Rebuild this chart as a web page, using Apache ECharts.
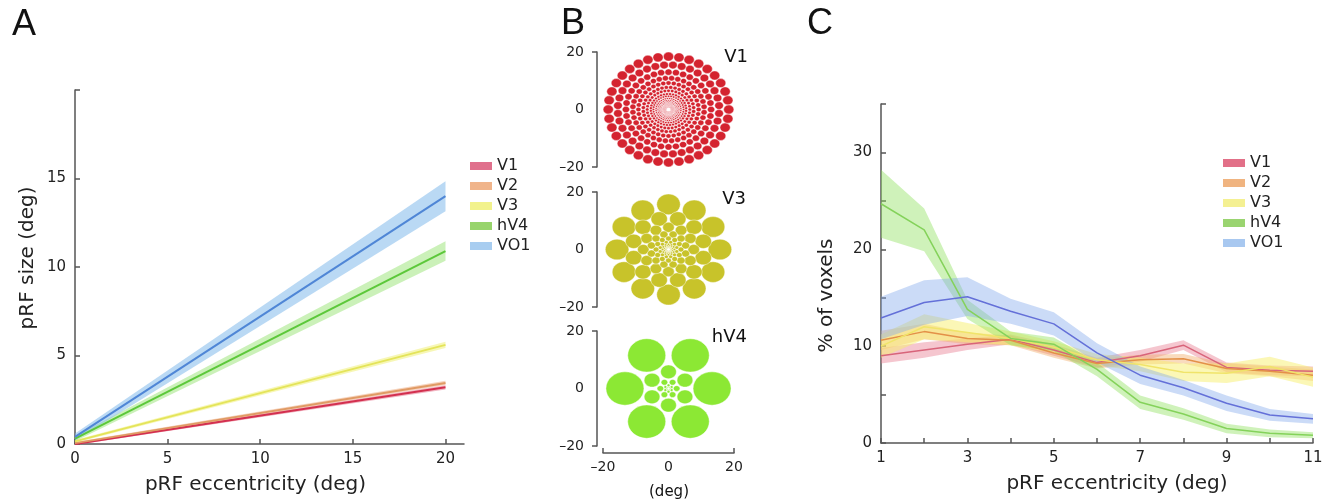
<!DOCTYPE html>
<html><head><meta charset="utf-8">
<script src="https://cdn.jsdelivr.net/npm/echarts@6/dist/echarts.min.js"></script>
<style>html,body{margin:0;padding:0;background:#fff}#c{width:1334px;height:504px}</style>
</head><body><div id="c"></div>
<script>
// ---------- DATA ----------
const areaNames = ['V1', 'V2', 'V3', 'hV4', 'VO1'];

// Panel A: pRF size vs eccentricity (linear fits, endpoints)
const eccA = [0, 20];
const sizeA_V1 = [0.0, 3.2];   const errA_V1 = [0.06, 0.12];
const sizeA_V2 = [0.05, 3.45]; const errA_V2 = [0.06, 0.12];
const sizeA_V3 = [0.15, 5.6];  const errA_V3 = [0.08, 0.18];
const sizeA_hV4 = [0.3, 10.9]; const errA_hV4 = [0.15, 0.55];
const sizeA_VO1 = [0.4, 14.0]; const errA_VO1 = [0.2, 0.85];

// Panel C: % of voxels vs eccentricity
const eccC = [1, 2, 3, 4, 5, 6, 7, 8, 9, 10, 11];
const pctC_V1 = [9.0, 9.6, 10.2, 10.7, 9.6, 8.3, 9.0, 10.1, 7.8, 7.5, 7.4];
const errC_V1 = [0.8, 0.8, 0.6, 0.5, 0.6, 0.5, 0.6, 0.5, 0.5, 0.5, 0.5];
const pctC_V2 = [10.6, 11.5, 10.8, 10.6, 9.3, 8.2, 8.6, 8.7, 7.7, 7.4, 7.0];
const errC_V2 = [1.0, 0.8, 0.6, 0.5, 0.5, 0.5, 0.5, 0.5, 0.5, 0.5, 0.6];
const pctC_V3 = [10.0, 12.0, 11.4, 10.8, 9.9, 8.6, 8.1, 7.3, 7.2, 7.9, 6.8];
const errC_V3 = [1.2, 1.3, 1.0, 0.7, 0.6, 0.6, 0.7, 0.9, 1.0, 1.0, 1.0];
const pctC_hV4 = [24.7, 22.0, 13.8, 10.8, 10.2, 7.6, 4.2, 3.0, 1.5, 1.0, 0.8];
const errC_hV4 = [3.5, 2.2, 1.0, 0.7, 0.7, 0.7, 0.7, 0.6, 0.5, 0.4, 0.3];
const pctC_VO1 = [12.9, 14.5, 15.1, 13.6, 12.3, 9.3, 7.0, 5.7, 4.1, 2.9, 2.5];
const errC_VO1 = [2.2, 2.3, 2.0, 1.3, 1.2, 1.0, 0.9, 0.8, 0.8, 0.6, 0.5];

// Panel B: pRF tilings (ring eccentricity, pRF radius, count per ring), deg
const v1RingEcc = [18.4, 15.5, 13.0, 10.9, 9.2, 7.7, 6.5, 5.4, 4.6, 3.8, 3.2, 2.7, 2.3, 1.9, 1.6, 1.35, 1.13, 0.95, 0.8, 0.67];
const v1RingRad = [1.56, 1.32, 1.1, 0.93, 0.78, 0.65, 0.55, 0.46, 0.39, 0.32, 0.27, 0.23, 0.2, 0.16, 0.14, 0.11, 0.1, 0.08, 0.07, 0.06];
const v1PerRing = 36;
const v3RingEcc = [15.7, 11.0, 7.7, 5.4, 3.8, 2.6, 1.8, 1.3, 0.9, 0.6];
const v3RingRad = [3.6, 2.5, 1.77, 1.24, 0.87, 0.6, 0.41, 0.3, 0.21, 0.14];
const v3PerRing = 12;
const hv4RingEcc = [13.3, 5.8, 2.5, 1.1, 0.5];
const hv4RingRad = [5.8, 2.4, 1.0, 0.45, 0.2];
const hv4PerRing = 6;

// Tick values
const ticksA_x = [0, 5, 10, 15, 20];
const ticksA_y = [0, 5, 10, 15, 20];
const labelsA_y = [0, 5, 10, 15];
const ticksB = [-20, 20];
const labelsB = [-20, 0, 20];
const ticksC_x = [1, 2, 3, 4, 5, 6, 7, 8, 9, 10, 11];
const labelsC_x = [1, 3, 5, 7, 9, 11];
const ticksC_y = [0, 5, 10, 15, 20, 25, 30, 35];
const labelsC_y = [0, 10, 20, 30];

// ---------- STYLES ----------
const lineColA = ['#d3304f', '#e09a64', '#e4e45a', '#5cc83a', '#4f86d6'];
const bandColA = ['rgba(225,90,120,0.45)', 'rgba(235,160,110,0.45)', 'rgba(240,240,110,0.5)', 'rgba(140,225,100,0.45)', 'rgba(130,185,235,0.55)'];
const legendColA = ['#e0708c', '#f0b48a', '#f2f28c', '#98d46c', '#a8cdf0'];
const lineColC = ['#d8647a', '#e39048', '#f0e46a', '#84d25a', '#6470d8'];
const bandColC = ['rgba(230,120,140,0.42)', 'rgba(240,170,100,0.42)', 'rgba(248,240,110,0.5)', 'rgba(140,225,90,0.42)', 'rgba(130,170,235,0.42)'];
const legendColC = ['#e27088', '#f0b480', '#f4f092', '#9ad470', '#a8c8f0'];
const diskCol = ['#d4232f', '#c8c32a', '#8ce834'];

const FONT = 'DejaVu Sans';
const axisLine = { show: true, onZero: false, lineStyle: { color: '#555', width: 1.5 } };
const tickStyle = { color: '#555', width: 1.5 };
const lbl = { fontFamily: FONT, fontSize: 15, color: '#222' };
const nameStyle = { fontFamily: FONT, fontSize: 20, color: '#222' };

// ---------- BUILD ----------
const meansA = [sizeA_V1, sizeA_V2, sizeA_V3, sizeA_hV4, sizeA_VO1];
const errsA = [errA_V1, errA_V2, errA_V3, errA_hV4, errA_VO1];
const meansC = [pctC_V1, pctC_V2, pctC_V3, pctC_hV4, pctC_VO1];
const errsC = [errC_V1, errC_V2, errC_V3, errC_hV4, errC_VO1];

function bandSeries(axisIdx, xs, mean, err, lineColor, bandColor, lw, name) {
  return [
    { type: 'custom', xAxisIndex: axisIdx, yAxisIndex: axisIdx, silent: true, z: 2,
      data: xs.map((x, i) => [x, mean[i] - err[i], mean[i] + err[i]]),
      encode: { x: 0, y: [1, 2] },
      renderItem: function (params, api) {
        if (params.dataIndexInside !== 0) return null;
        const n = params.dataInsideLength;
        const top = [], bot = [];
        for (let i = 0; i < n; i++) {
          top.push(api.coord([api.value(0, i), api.value(2, i)]));
          bot.push(api.coord([api.value(0, i), api.value(1, i)]));
        }
        return { type: 'polygon', shape: { points: top.concat(bot.reverse()) }, style: { fill: bandColor } };
      } },
    { type: 'line', name: name, xAxisIndex: axisIdx, yAxisIndex: axisIdx,
      data: xs.map((x, i) => [x, mean[i]]), symbol: 'none',
      lineStyle: { color: lineColor, width: lw }, itemStyle: { color: lineColor }, z: 3 }
  ];
}

function ringPoints(ecc, rad, n) {
  const pts = [];
  ecc.forEach((R, k) => {
    const off = (k % 2) * Math.PI / n;
    for (let j = 0; j < n; j++) {
      const a = off + j * 2 * Math.PI / n;
      pts.push([R * Math.cos(a), R * Math.sin(a), rad[k]]);
    }
  });
  return pts;
}

function diskSeries(axisIdx, pts, color) {
  return {
    type: 'custom', xAxisIndex: axisIdx, yAxisIndex: axisIdx, data: pts, encode: { x: 0, y: 1 },
    silent: true,
    renderItem: function (params, api) {
      const c = api.coord([api.value(0), api.value(1)]);
      const s = api.size([api.value(2), api.value(2)]);
      return { type: 'ellipse', shape: { cx: c[0], cy: c[1], rx: s[0], ry: s[1] },
        style: { fill: color, stroke: 'rgba(255,255,255,0.85)', lineWidth: 0.5 } };
    }
  };
}

const series = [];
areaNames.forEach((n, i) => series.push(...bandSeries(0, eccA, meansA[i], errsA[i], lineColA[i], bandColA[i], 2, n)));
areaNames.forEach((n, i) => series.push(...bandSeries(1, eccC, meansC[i], errsC[i], lineColC[i], bandColC[i], 1.5, n)));
series.push(diskSeries(2, ringPoints(v1RingEcc, v1RingRad, v1PerRing), diskCol[0]));
series.push(diskSeries(3, ringPoints(v3RingEcc, v3RingRad, v3PerRing), diskCol[1]));
series.push(diskSeries(4, ringPoints(hv4RingEcc, hv4RingRad, hv4PerRing), diskCol[2]));

const negFmt = v => (v < 0 ? '\u2013' + (-v) : String(v));

const bTops = [52, 192, 331];
const grids = [
  { left: 75, top: 90, width: 389, height: 354, outerBoundsMode: 'none' },
  { left: 881, top: 104, width: 432, height: 339, outerBoundsMode: 'none' }
].concat(bTops.map(t => ({ left: 603, top: t, width: 131, height: 115, outerBoundsMode: 'none' })));

const xAxes = [
  { gridIndex: 0, type: 'value', min: 0, max: 21, axisLine,
    axisTick: { show: true, inside: true, length: 5, customValues: ticksA_x, lineStyle: tickStyle },
    axisLabel: { customValues: ticksA_x, margin: 8, ...lbl }, splitLine: { show: false },
    name: 'pRF eccentricity (deg)', nameLocation: 'middle', nameGap: 31,
    nameTextStyle: { ...nameStyle, padding: [0, 28, 0, 0] } },
  { gridIndex: 1, type: 'value', min: 1, max: 11, axisLine,
    axisTick: { show: true, inside: true, length: 5, customValues: ticksC_x, lineStyle: tickStyle },
    axisLabel: { customValues: labelsC_x, margin: 8, ...lbl }, splitLine: { show: false },
    name: 'pRF eccentricity (deg)', nameLocation: 'middle', nameGap: 31,
    nameTextStyle: { ...nameStyle, padding: [0, 0, 0, 40] } }
].concat([0, 1, 2].map(k => ({
  gridIndex: 2 + k, type: 'value', min: -20, max: 20, show: k === 2, offset: 7, axisLine,
  axisTick: { show: true, inside: true, length: 5, customValues: ticksB, lineStyle: tickStyle },
  axisLabel: { customValues: labelsB, margin: 7, formatter: negFmt, ...lbl, fontSize: 14 },
  splitLine: { show: false }
})));

const yAxes = [
  { gridIndex: 0, type: 'value', min: 0, max: 20, axisLine,
    axisTick: { show: true, inside: true, length: 5, customValues: ticksA_y, lineStyle: tickStyle },
    axisLabel: { customValues: labelsA_y, margin: 9, ...lbl }, splitLine: { show: false },
    name: 'pRF size (deg)', nameLocation: 'middle', nameGap: 37,
    nameTextStyle: { ...nameStyle, padding: [0, 0, 0, 18] } },
  { gridIndex: 1, type: 'value', min: 0, max: 35, axisLine,
    axisTick: { show: true, inside: true, length: 5, customValues: ticksC_y, lineStyle: tickStyle },
    axisLabel: { customValues: labelsC_y, margin: 9, ...lbl }, splitLine: { show: false },
    name: '% of voxels', nameLocation: 'middle', nameGap: 44,
    nameTextStyle: { ...nameStyle, padding: [0, 44, 0, 0] } }
].concat([0, 1, 2].map(k => ({
  gridIndex: 2 + k, type: 'value', min: -20, max: 20, offset: 6, axisLine,
  axisTick: { show: true, inside: false, length: 5, customValues: ticksB, lineStyle: tickStyle },
  axisLabel: { customValues: labelsB, margin: 13, formatter: negFmt, ...lbl, fontSize: 14 },
  splitLine: { show: false }
})));

function legendOf(left, top, cols) {
  return {
    left: left, top: top, orient: 'vertical', icon: 'rect', itemWidth: 22, itemHeight: 8, itemGap: 4,
    selectedMode: false, padding: 0,
    itemStyle: { borderWidth: 0 }, lineStyle: { width: 0 },
    textStyle: { fontFamily: FONT, fontSize: 16, color: '#222' },
    data: areaNames.map((n, i) => ({ name: n, itemStyle: { color: cols[i], borderWidth: 0 } }))
  };
}

function txt(text, x, y, size, align, family) {
  return { type: 'text', x: x, y: y, silent: true,
    style: { text: text, font: size + 'px "' + (family || FONT) + '"', fill: '#111',
      textAlign: align, textVerticalAlign: 'middle', align: align, verticalAlign: 'middle' } };
}

const option = {
  animation: false,
  backgroundColor: '#fff',
  grid: grids,
  xAxis: xAxes,
  yAxis: yAxes,
  legend: [legendOf(470, 158, legendColA), legendOf(1223, 155, legendColC)],
  series: series,
  graphic: [
    txt('A', 12, 25, 36, 'left', 'Liberation Sans'),
    txt('B', 561, 24, 36, 'left', 'Liberation Sans'),
    txt('C', 807, 24, 36, 'left', 'Liberation Sans'),
    txt('V1', 748, 57, 18, 'right'),
    txt('V3', 746, 199, 18, 'right'),
    txt('hV4', 747, 337, 18, 'right'),
    txt('(deg)', 669, 492, 15, 'center')
  ]
};

const chart = echarts.init(document.getElementById('c'), null, { renderer: 'canvas' });
chart.setOption(option);
</script>
</body></html>
